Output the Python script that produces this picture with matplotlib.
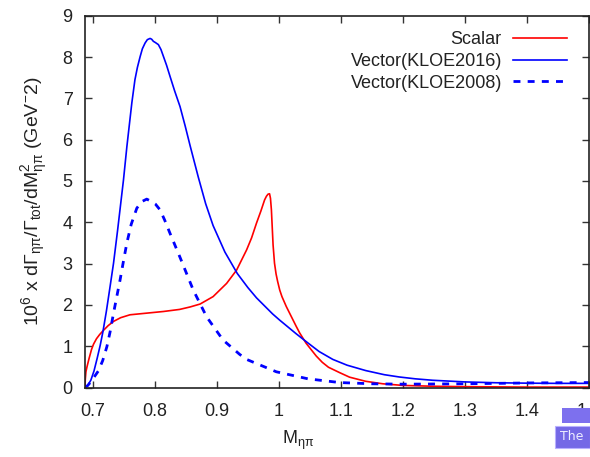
import matplotlib
matplotlib.use("Agg")
import matplotlib.pyplot as plt
from matplotlib.patches import Rectangle

plt.rcParams['font.family'] = ['Liberation Sans', 'DejaVu Sans']
plt.rcParams['mathtext.fontset'] = 'custom'
plt.rcParams['mathtext.rm'] = 'Liberation Sans'
plt.rcParams['mathtext.it'] = 'Liberation Sans:italic'
plt.rcParams['mathtext.bf'] = 'Liberation Sans:bold'

# Scalar contribution
scalar_m = [0.6875, 0.6880, 0.6890, 0.6907, 0.6940, 0.6980, 0.7013, 0.7060, 0.7110,
            0.7164, 0.7250, 0.7335, 0.7450, 0.7600, 0.7870, 0.8140, 0.8400, 0.8570,
            0.8730, 0.8940, 0.9158, 0.9318, 0.9480, 0.9560, 0.9640, 0.9710, 0.9770,
            0.9800, 0.9826, 0.9850, 0.9865, 0.9880, 0.9907, 0.9930, 0.9955, 0.9980,
            1.0014, 1.0050, 1.0120, 1.0200, 1.0280, 1.0336, 1.0440, 1.0604, 1.0700,
            1.0800, 1.0980, 1.1140, 1.1400, 1.1675, 1.2000, 1.2500, 1.3000, 1.4000,
            1.5000]
scalar_y = [0.00, 0.20, 0.38, 0.50, 0.70, 0.92, 1.05, 1.18, 1.28,
            1.37, 1.50, 1.60, 1.69, 1.76, 1.80, 1.84, 1.89, 1.95,
            2.02, 2.20, 2.52, 2.84, 3.33, 3.62, 3.98, 4.27, 4.54,
            4.63, 4.68, 4.69, 4.58, 4.30, 3.45, 3.01, 2.75, 2.57,
            2.36, 2.20, 1.96, 1.72, 1.48, 1.32, 1.07, 0.76, 0.61,
            0.49, 0.36, 0.25, 0.15, 0.09, 0.05, 0.03, 0.02, 0.01,
            0.01]

# Vector contribution, KLOE 2016 parameters
v16_m = [0.6875, 0.6920, 0.6970, 0.7020, 0.7070, 0.7120, 0.7164, 0.7220, 0.7275,
         0.7335, 0.7400, 0.7470, 0.7495, 0.7550, 0.7630, 0.7680, 0.7720, 0.7764,
         0.7800, 0.7844, 0.7880, 0.7924, 0.7950, 0.7977, 0.8010, 0.8058, 0.8100,
         0.8138, 0.8190, 0.8246, 0.8320, 0.8407, 0.8490, 0.8570, 0.8700, 0.8820,
         0.8940, 0.9130, 0.9330, 0.9500, 0.9640, 0.9900, 1.0014, 1.0280, 1.0450,
         1.0650, 1.0870, 1.1100, 1.1400, 1.1700, 1.1940, 1.2200, 1.2480, 1.3000,
         1.3500, 1.4000, 1.4500, 1.5000]
v16_y = [0.00, 0.05, 0.18, 0.40, 0.70, 1.02, 1.35, 1.85, 2.40,
         3.01, 3.80, 4.70, 5.02, 5.83, 6.89, 7.45, 7.75, 8.01,
         8.20, 8.34, 8.42, 8.45, 8.43, 8.38, 8.35, 8.30, 8.18,
         8.02, 7.80, 7.53, 7.18, 6.80, 6.33, 5.85, 5.10, 4.45,
         3.92, 3.28, 2.76, 2.42, 2.17, 1.78, 1.63, 1.30, 1.10,
         0.87, 0.68, 0.54, 0.41, 0.31, 0.255, 0.21, 0.175, 0.135,
         0.115, 0.105, 0.10, 0.10]

# Vector contribution, KLOE 2008 parameters
v08_m = [0.6875, 0.6920, 0.6970, 0.7030, 0.7090, 0.7160, 0.7228, 0.7280, 0.7335,
         0.7390, 0.7440, 0.7500, 0.7550, 0.7620, 0.7710, 0.7790, 0.7870, 0.7950,
         0.8010, 0.8085, 0.8160, 0.8246, 0.8407, 0.8620, 0.8836, 0.9100, 0.9370,
         0.9480, 0.9960, 1.0470, 1.0980, 1.1500, 1.2000, 1.3000, 1.4000, 1.5000]
v08_y = [0.00, 0.05, 0.14, 0.27, 0.40, 0.65, 0.99, 1.35, 1.80,
         2.22, 2.60, 3.10, 3.50, 3.95, 4.34, 4.50, 4.56, 4.50,
         4.44, 4.30, 4.05, 3.73, 3.15, 2.36, 1.71, 1.15, 0.80,
         0.68, 0.38, 0.21, 0.12, 0.09, 0.08, 0.09, 0.11, 0.12]

x_ticks = [0.7, 0.8, 0.9, 1.0, 1.1, 1.2, 1.3, 1.4, 1.5]
x_tick_labels = ['0.7', '0.8', '0.9', '1', '1.1', '1.2', '1.3', '1.4', '1.5']
y_ticks = list(range(0, 10))

fig = plt.figure(figsize=(5.9, 4.57), dpi=100)
ax = fig.add_axes([85 / 590, 1 - 387.5 / 457, 504 / 590, 371.8 / 457])

ax.plot(scalar_m, scalar_y, color='#ff0000', lw=1.2, label='Scalar')
ax.plot(v16_m, v16_y, color='#0000ff', lw=1.2, label='Vector(KLOE2016)')
ax.plot(v08_m, v08_y, color='#0000ff', lw=2.0, dashes=(2.5, 2.6),
        label='Vector(KLOE2008)')

ax.set_xlim(0.6875, 1.5)
ax.set_ylim(0, 9)
ax.set_xticks(x_ticks)
ax.set_xticklabels(x_tick_labels)
ax.set_yticks(y_ticks)

ax.tick_params(direction='in', length=5, width=1, colors='#333333',
               labelcolor='#222222', labelsize=13, top=True, right=True)
ax.tick_params(axis='x', pad=11.5)
ax.tick_params(axis='y', pad=9)
for s in ax.spines.values():
    s.set_color('#222222')
    s.set_linewidth(1.2)

ax.set_xlabel(r'M$\mathregular{_{ηπ}}$', fontsize=13, color='#222222')
ax.xaxis.set_label_coords(0.4226, -0.111)
ax.set_ylabel(r'10$\mathregular{^6}$ x dΓ$\mathregular{_{ηπ}}$/Γ$\mathregular{_{tot}}$'
              r'/dM$\mathregular{^2_{ηπ}}$ (GeV$\mathregular{^{-}}$2)',
              fontsize=14, color='#222222')
ax.yaxis.set_label_coords(-0.07, 0.5)

leg = ax.legend(loc='upper right', bbox_to_anchor=(0.956, 0.958), frameon=False,
                markerfirst=False, fontsize=13, handlelength=3.0,
                handletextpad=0.6, labelspacing=0.26, borderpad=0,
                borderaxespad=0)
for t in leg.get_texts():
    t.set_color('#222222')

# presentation-tool tab overlapping the lower right corner
fig.patches.append(Rectangle((561.7 / 590, 1 - 422.7 / 457), 28.3 / 590, 14.7 / 457,
                             transform=fig.transFigure, facecolor='#7d70ee',
                             edgecolor='none', zorder=10))
fig.patches.append(Rectangle((555 / 590, 1 - 448.3 / 457), 35 / 590, 22.6 / 457,
                             transform=fig.transFigure, facecolor='#7468e6',
                             edgecolor='#b8b0ff', lw=0.8, zorder=10))
fig.text(572 / 590, 1 - 437 / 457, 'The', color='#eeeeff', fontsize=9,
         family='DejaVu Sans', ha='center', va='center', zorder=11)

fig.savefig('out.png', dpi=100)
